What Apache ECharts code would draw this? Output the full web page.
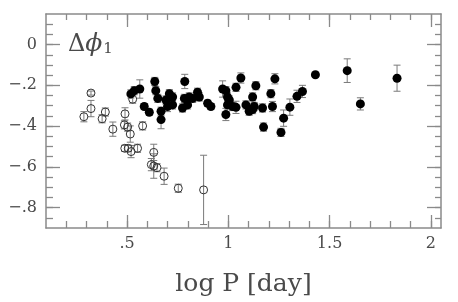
<!DOCTYPE html>
<html><head><meta charset="utf-8">
<script src="https://cdn.jsdelivr.net/npm/echarts@6/dist/echarts.min.js"></script>
<style>html,body{margin:0;padding:0;background:#fff}#c{width:458px;height:302px}</style>
</head><body><div id="c"></div>
<script>
// Filled circles: log P, delta phi_1, error
const filledX = [0.519,0.536,0.563,0.585,0.610,0.637,0.642,0.652,0.668,0.668,0.692,0.709,0.700,0.725,0.725,0.774,0.785,0.783,0.799,0.807,0.824,0.848,0.857,0.898,0.914,0.972,0.988,0.996,1.005,0.996,0.988,1.021,1.038,1.038,1.062,1.087,1.103,1.120,1.128,1.136,1.120,1.169,1.174,1.210,1.218,1.230,1.260,1.273,1.304,1.339,1.366,1.430,1.587,1.652,1.833];
const filledY = [-0.242,-0.226,-0.218,-0.304,-0.332,-0.181,-0.226,-0.264,-0.327,-0.368,-0.272,-0.241,-0.304,-0.296,-0.257,-0.311,-0.181,-0.264,-0.296,-0.257,-0.264,-0.234,-0.257,-0.288,-0.304,-0.218,-0.226,-0.257,-0.272,-0.296,-0.343,-0.304,-0.210,-0.308,-0.164,-0.296,-0.327,-0.257,-0.304,-0.202,-0.319,-0.311,-0.405,-0.241,-0.304,-0.168,-0.431,-0.361,-0.307,-0.254,-0.230,-0.148,-0.128,-0.291,-0.165];
const filledErr = [0.02,0.02,0.045,0.015,0.015,0.02,0.02,0.02,0.02,0.045,0.02,0.02,0.025,0.02,0.02,0.02,0.035,0.02,0.02,0.02,0.02,0.02,0.02,0.015,0.015,0.04,0.02,0.02,0.02,0.02,0.03,0.02,0.02,0.03,0.025,0.02,0.02,0.02,0.02,0.02,0.02,0.02,0.02,0.02,0.025,0.025,0.02,0.04,0.04,0.03,0.03,0.01,0.058,0.03,0.064];
// Open circles
const openX = [0.287,0.322,0.322,0.377,0.393,0.430,0.490,0.487,0.503,0.516,0.577,0.528,0.489,0.506,0.520,0.552,0.632,0.620,0.632,0.648,0.683,0.753,0.878];
const openY = [-0.354,-0.238,-0.314,-0.364,-0.331,-0.415,-0.340,-0.394,-0.405,-0.439,-0.399,-0.268,-0.509,-0.509,-0.525,-0.509,-0.529,-0.589,-0.596,-0.604,-0.646,-0.705,-0.713];
const openErr = [0.025,0.01,0.04,0.02,0.02,0.035,0.03,0.02,0.02,0.04,0.02,0.02,0.015,0.015,0.03,0.02,0.04,0.03,0.06,0.02,0.04,0.02,0.17];
// Tick labels
const xMajor = [0.5,1,1.5,2];
const xLabels = ['.5','1','1.5','2'];
const yMajor = [-0.8,-0.6,-0.4,-0.2,0];
const yLabels = ['\u2212.8','\u2212.6','\u2212.4','\u2212.2','0'];
const xTitle = 'log P [day]';

const xMinor = []; for (let i = 2; i <= 20; i++) xMinor.push(+(i/10).toFixed(2));
const yMinor = []; for (let i = -17; i <= 2; i++) yMinor.push(+(i*0.05).toFixed(2));

const XMIN = 0.1, XMAX = 2.05, YMIN = -0.9, YMAX = 0.15;
const lineC = '#8a8a8a', textC = '#4a4a4a', errC = '#7a7a7a';
const font = '"DejaVu Serif", "Liberation Serif", serif';

function lab(vals, labels){ return v => { for (let i=0;i<vals.length;i++) if (Math.abs(vals[i]-v)<1e-6) return labels[i]; return ''; }; }

function xAx(pos, len, ticks, line, labels){
  return {type:'value', min:XMIN, max:XMAX, position:pos,
    axisLine:{show:line, onZero:false, lineStyle:{color:lineC, width:1.5}},
    axisTick:{show:true, inside:true, length:len, customValues:ticks, lineStyle:{color:lineC, width:1.3}},
    axisLabel:{show:labels, customValues:xMajor, formatter:lab(xMajor,xLabels), color:textC, fontFamily:font, fontSize:16, margin:8},
    splitLine:{show:false},
    name: labels ? xTitle : '', nameLocation:'middle', nameGap:44,
    nameTextStyle:{color:textC, fontFamily:font, fontSize:25}};
}
function yAx(pos, len, ticks, line, labels){
  return {type:'value', min:YMIN, max:YMAX, position:pos,
    axisLine:{show:line, onZero:false, lineStyle:{color:lineC, width:1.5}},
    axisTick:{show:true, inside:true, length:len, customValues:ticks, lineStyle:{color:lineC, width:1.3}},
    axisLabel:{show:labels, customValues:yMajor, formatter:lab(yMajor,yLabels), color:textC, fontFamily:font, fontSize:16, margin:9},
    splitLine:{show:false}};
}

function errSeries(xs, ys, es){
  return {type:'custom', xAxisIndex:0, yAxisIndex:0, silent:true, z:1,
    data: xs.map((x,i)=>[x, ys[i], es[i]]),
    renderItem(params, api){
      const x = api.value(0), y = api.value(1), e = api.value(2);
      const t = api.coord([x, y+e]), b = api.coord([x, y-e]);
      const w = 3.5, st = {stroke:errC, lineWidth:1};
      return {type:'group', children:[
        {type:'line', shape:{x1:t[0],y1:t[1],x2:b[0],y2:b[1]}, style:st},
        {type:'line', shape:{x1:t[0]-w,y1:t[1],x2:t[0]+w,y2:t[1]}, style:st},
        {type:'line', shape:{x1:b[0]-w,y1:b[1],x2:b[0]+w,y2:b[1]}, style:st}
      ]};
    }};
}

const chart = echarts.init(document.getElementById('c'), null, {renderer:'canvas'});
chart.setOption({
  animation:false,
  backgroundColor:'#fff',
  grid:{left:46, right:17, top:14, bottom:63, containLabel:false},
  xAxis:[ xAx('bottom',13,xMajor,true,true), xAx('bottom',7,xMinor,false,false),
          xAx('top',13,xMajor,true,false), xAx('top',6,xMinor,false,false) ],
  yAxis:[ yAx('left',14,yMajor,true,true), yAx('left',7,yMinor,false,false),
          yAx('right',14,yMajor,true,false), yAx('right',6,yMinor,false,false) ],
  graphic:[{type:'text', left:68, top:32, silent:true,
    style:{rich:{
      a:{fontFamily:font, fontSize:24, fill:textC},
      b:{fontFamily:font, fontSize:25, fontStyle:'italic', fill:textC},
      c:{fontFamily:font, fontSize:15, fill:textC, verticalAlign:'bottom', padding:[10,0,0,1]}
    }, text:'{a|\u0394}{b|\u03d5}{c|1}'}}],
  series:[
    errSeries(openX, openY, openErr),
    errSeries(filledX, filledY, filledErr),
    {type:'scatter', xAxisIndex:0, yAxisIndex:0, z:3, symbol:'circle', symbolSize:8,
     itemStyle:{color:'rgba(0,0,0,0)', borderColor:'#333', borderWidth:1, opacity:1},
     data: openX.map((x,i)=>[x, openY[i]])},
    {type:'scatter', xAxisIndex:0, yAxisIndex:0, z:4, symbol:'circle', symbolSize:9,
     itemStyle:{color:'#000', opacity:1},
     data: filledX.map((x,i)=>[x, filledY[i]])}
  ]
});
</script></body></html>
